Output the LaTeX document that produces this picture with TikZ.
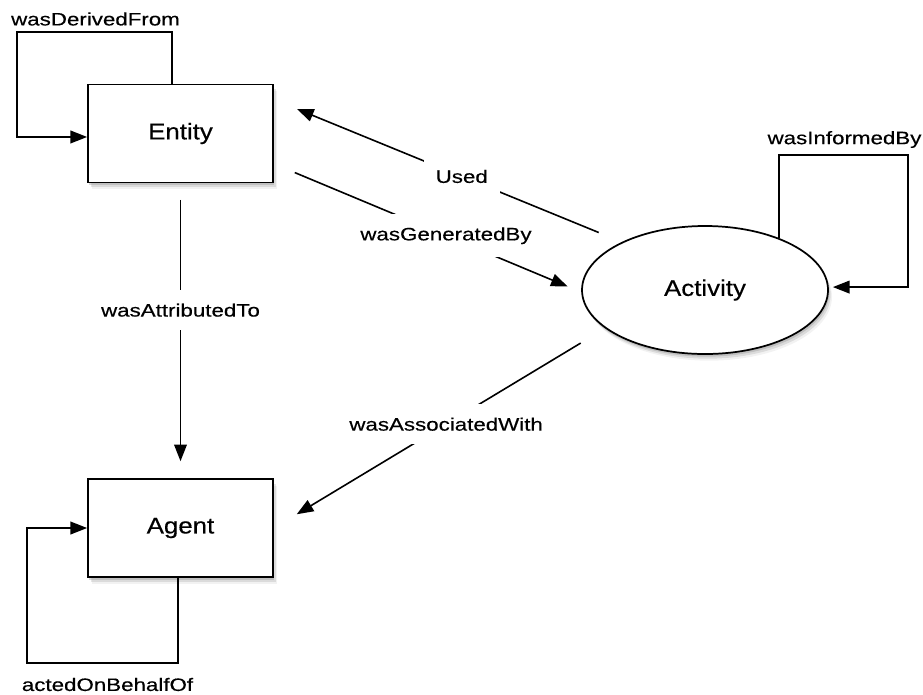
\documentclass[tikz,border=0pt]{standalone}
\usepackage{fontspec}
\setmainfont{Liberation Sans}
\newfontfamily\classfont{Liberation Sans}[FakeStretch=1.14,FakeBold=0.4]
\newfontfamily\relfont{Liberation Sans}[FakeStretch=1.24,FakeBold=0.4]
\usetikzlibrary{shapes.geometric,arrows.meta,shadows}

\begin{document}
\begin{tikzpicture}
[
  x=0.75pt, y=-0.75pt,
  >={Triangle[length=12.5pt,width=9.5pt]},
	softshadow/.style={drop shadow={shadow xshift=1pt,shadow yshift=-2pt,opacity=.3},
	                   drop shadow={shadow xshift=2pt,shadow yshift=-3.5pt,opacity=.2},
	                   drop shadow={shadow xshift=3pt,shadow yshift=-5pt,opacity=.1}},
	cls/.style={draw,line width=1.3pt,fill=white,softshadow,font=\classfont\fontsize{17}{20}\selectfont},
	entity/.style={cls,rectangle,minimum width=138.75pt,minimum height=73.5pt},
	activity/.style={cls,ellipse,minimum width=184.5pt,minimum height=96pt,inner sep=0pt},
	rel/.style={->,line width=1.2pt},
	lbl/.style={font=\relfont\fontsize{13.5}{16}\selectfont},
	midlbl/.style={lbl,fill=white,inner xsep=9pt,inner ysep=10pt}
]

\useasboundingbox (0,0) rectangle (923,694);

\node[entity] (entity) at (180.5,133.5) {Entity};
\node[entity] (agent) at (180.5,528) {Agent};
\node[activity] (activity) at (705,290) {Activity};


\draw[rel,shorten <=18.7pt,shorten >=18.7pt] (activity.150) -- (entity.20) node[midlbl,pos=0.46] {Used};
\draw[rel,shorten <=17pt,shorten >=11pt] (entity.-18) -- (activity.181) node[midlbl,pos=0.56] {wasGeneratedBy};
\draw[rel,shorten <=21.4pt,shorten >=20pt] (activity.201) -- (agent.east) node[midlbl,pos=0.48] {wasAssociatedWith};
\draw[rel,shorten <=12.4pt,shorten >=12.7pt] (entity.south) -- (agent.north) node[midlbl,pos=0.43] {wasAttributedTo};


\coordinate (derivedCorner) at (17,32);
\draw[rel] ([xshift=-6.4pt]entity.north) |- (derivedCorner) |- ([yshift=-2.6pt]entity.west);
\node[lbl] (derivedLabel) at (95.5,19) {wasDerivedFrom};

\coordinate (informedCorner) at (908,155);
\draw[rel,shorten >=3pt] (activity.35) |- (informedCorner) |- ([yshift=2.2pt]activity.east);
\node[lbl] (informedLabel) at (844.5,139.5) {wasInformedBy};

\coordinate (behalfCorner) at (27,663);
\draw[rel] ([xshift=-1.9pt]agent.south) |- (behalfCorner) |- (agent.west);
\node[lbl] (behalfLabel) at (107.5,684.5) {actedOnBehalfOf};
\end{tikzpicture}
\end{document}
